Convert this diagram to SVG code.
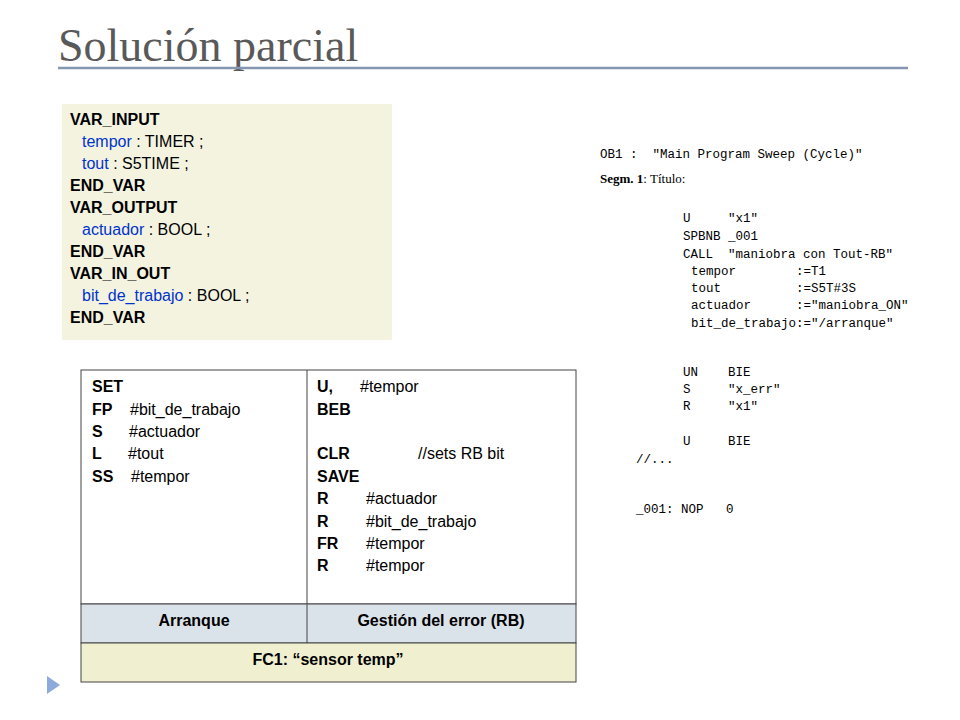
<svg xmlns="http://www.w3.org/2000/svg" width="960" height="720" viewBox="0 0 960 720">
<style>
text{white-space:pre}
.s{font-family:"Liberation Sans",Arial,sans-serif;font-size:16px;fill:#000}
.b{font-weight:bold}
.bl{fill:#0033cc}
.m{font-family:"Liberation Serif","Times New Roman",serif;font-size:13px;fill:#000}
.mb{font-family:"Liberation Mono","Courier New",monospace;font-size:12.5px;fill:#000}
</style>
<rect width="960" height="720" fill="#fff"/>
<text x="58" y="61" font-family="Liberation Serif,serif" font-size="46" fill="#595959">Solución parcial</text>
<line x1="58" y1="68" x2="908" y2="68" stroke="#8496b0" stroke-width="2.5"/>
<polygon points="47,676 47,694 60,685" fill="#8eaadb"/>
<g id="varbox">
<rect x="62" y="104" width="330" height="236" fill="#f3f3e0"/>
<text class="s" x="70" y="125"><tspan class="b">VAR_INPUT</tspan></text>
<text class="s" x="82" y="147"><tspan class="bl">tempor</tspan> : TIMER ;</text>
<text class="s" x="82" y="169"><tspan class="bl">tout</tspan> : S5TIME ;</text>
<text class="s b" x="70" y="191">END_VAR</text>
<text class="s b" x="70" y="213">VAR_OUTPUT</text>
<text class="s" x="82" y="235"><tspan class="bl">actuador</tspan> : BOOL ;</text>
<text class="s b" x="70" y="257">END_VAR</text>
<text class="s b" x="70" y="279">VAR_IN_OUT</text>
<text class="s" x="82" y="301"><tspan class="bl">bit_de_trabajo</tspan> : BOOL ;</text>
<text class="s b" x="70" y="323">END_VAR</text>
</g>
<g id="table">
<rect x="81" y="370" width="495" height="234" fill="#fff" stroke="#444" stroke-width="1"/>
<rect x="81" y="604" width="495" height="39" fill="#dbe3ea" stroke="#444" stroke-width="1"/>
<rect x="81" y="643" width="495" height="39" fill="#f0f0d0" stroke="#444" stroke-width="1"/>
<line x1="307" y1="370" x2="307" y2="643" stroke="#444"/>
<text class="s" x="92" y="392"><tspan class="b">SET</tspan></text>
<text class="s" x="92" y="415"><tspan class="b">FP</tspan><tspan x="130">#bit_de_trabajo</tspan></text>
<text class="s" x="92" y="437"><tspan class="b">S</tspan><tspan x="129">#actuador</tspan></text>
<text class="s" x="92" y="459"><tspan class="b">L</tspan><tspan x="128">#tout</tspan></text>
<text class="s" x="92" y="482"><tspan class="b">SS</tspan><tspan x="131">#tempor</tspan></text>
<text class="s" x="317" y="392"><tspan class="b">U,</tspan><tspan x="360">#tempor</tspan></text>
<text class="s b" x="317" y="415">BEB</text>
<text class="s b" x="317" y="459">CLR</text>
<text class="s" x="418" y="459" fill="#1a7a1a">//sets RB bit</text>
<text class="s b" x="317" y="482">SAVE</text>
<text class="s" x="317" y="504"><tspan class="b">R</tspan><tspan x="366">#actuador</tspan></text>
<text class="s" x="317" y="527"><tspan class="b">R</tspan><tspan x="366">#bit_de_trabajo</tspan></text>
<text class="s" x="317" y="549"><tspan class="b">FR</tspan><tspan x="366">#tempor</tspan></text>
<text class="s" x="317" y="571"><tspan class="b">R</tspan><tspan x="366">#tempor</tspan></text>
<text class="s b" x="194" y="626" text-anchor="middle">Arranque</text>
<text class="s b" x="441" y="626" text-anchor="middle">Gestión del error (RB)</text>
<text class="s b" x="328" y="665" text-anchor="middle">FC1: “sensor temp”</text>
</g>
<g id="code">
<text class="mb" x="600" y="158">OB1 :  "Main Program Sweep (Cycle)"</text>
<text class="m" x="600" y="183"><tspan font-weight="bold">Segm. 1</tspan>: Título:</text>
<text class="mb" x="683" y="222">U     "x1"</text>
<text class="mb" x="683" y="240">SPBNB _001</text>
<text class="mb" x="683" y="258">CALL  "maniobra con Tout-RB"</text>
<text class="mb" x="691" y="275">tempor        :=T1</text>
<text class="mb" x="691" y="292">tout          :=S5T#3S</text>
<text class="mb" x="691" y="309">actuador      :="maniobra_ON"</text>
<text class="mb" x="691" y="327">bit_de_trabajo:="/arranque"</text>
<text class="mb" x="683" y="376">UN    BIE</text>
<text class="mb" x="683" y="393">S     "x_err"</text>
<text class="mb" x="683" y="410">R     "x1"</text>
<text class="mb" x="683" y="445">U     BIE</text>
<text class="mb" x="636" y="463">//...</text>
<text class="mb" x="636" y="513">_001: NOP   0</text>
</g>
</svg>
